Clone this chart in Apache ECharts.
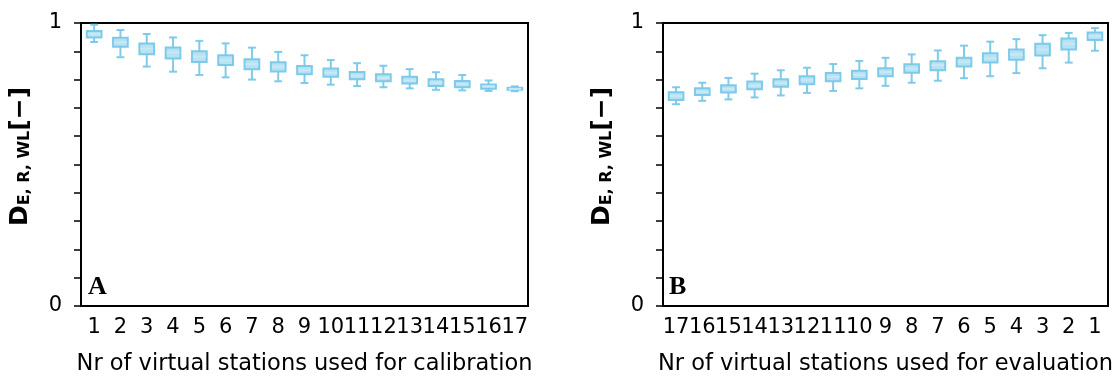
<!DOCTYPE html>
<html>
<head>
<meta charset="utf-8">
<script src="https://cdn.jsdelivr.net/npm/echarts@6/dist/echarts.min.js"></script>
<style>
  html, body { margin: 0; padding: 0; background: #fff; }
  #main { width: 1115px; height: 376px; }
</style>
</head>
<body>
<div id="main"></div>
<script>
// categories
const calibCats = ['1', '2', '3', '4', '5', '6', '7', '8', '9', '10', '11', '12', '13', '14', '15', '16', '17'];
const evalCats = ['17', '16', '15', '14', '13', '12', '11', '10', '9', '8', '7', '6', '5', '4', '3', '2', '1'];

// [low whisker, Q1, median, Q3, high whisker]
const calibBoxes = [
    [0.933, 0.949, 0.960, 0.972, 0.994],
    [0.879, 0.916, 0.932, 0.948, 0.975],
    [0.846, 0.890, 0.909, 0.928, 0.961],
    [0.828, 0.875, 0.895, 0.913, 0.949],
    [0.816, 0.862, 0.881, 0.900, 0.937],
    [0.808, 0.852, 0.868, 0.886, 0.928],
    [0.800, 0.837, 0.855, 0.872, 0.913],
    [0.794, 0.829, 0.845, 0.861, 0.898],
    [0.788, 0.819, 0.833, 0.848, 0.886],
    [0.782, 0.810, 0.824, 0.839, 0.869],
    [0.777, 0.801, 0.814, 0.827, 0.858],
    [0.773, 0.794, 0.806, 0.819, 0.849],
    [0.769, 0.786, 0.797, 0.810, 0.837],
    [0.764, 0.777, 0.789, 0.801, 0.826],
    [0.762, 0.773, 0.784, 0.795, 0.816],
    [0.760, 0.768, 0.776, 0.783, 0.797],
    [0.759, 0.764, 0.767, 0.771, 0.776]
];

const evalBoxes = [
    [0.713, 0.728, 0.742, 0.755, 0.773],
    [0.725, 0.746, 0.757, 0.769, 0.789],
    [0.730, 0.754, 0.767, 0.780, 0.806],
    [0.737, 0.766, 0.778, 0.793, 0.821],
    [0.744, 0.775, 0.788, 0.801, 0.833],
    [0.753, 0.784, 0.799, 0.812, 0.842],
    [0.760, 0.794, 0.809, 0.823, 0.855],
    [0.769, 0.802, 0.817, 0.831, 0.866],
    [0.778, 0.812, 0.827, 0.840, 0.877],
    [0.789, 0.824, 0.839, 0.854, 0.889],
    [0.796, 0.833, 0.851, 0.865, 0.903],
    [0.805, 0.846, 0.863, 0.877, 0.920],
    [0.812, 0.860, 0.875, 0.893, 0.934],
    [0.823, 0.870, 0.889, 0.906, 0.943],
    [0.840, 0.885, 0.906, 0.927, 0.957],
    [0.860, 0.906, 0.927, 0.945, 0.965],
    [0.902, 0.940, 0.953, 0.966, 0.982]
];

const boxFill = 'rgba(135,206,235,0.6)';
const boxEdge = 'rgba(120,200,232,0.95)';
const medEdge = 'rgba(200,232,246,1)';

function renderBox(params, api) {
    const idx = api.value(0);
    const low = api.coord([idx, api.value(1)]);
    const q1 = api.coord([idx, api.value(2)]);
    const med = api.coord([idx, api.value(3)]);
    const q3 = api.coord([idx, api.value(4)]);
    const high = api.coord([idx, api.value(5)]);
    const band = api.size([1, 0])[0];
    const bw = band * 0.56;
    const cw = band * 0.3;
    const x = low[0];
    const line = (x1, y1, x2, y2, c) => ({
        type: 'line',
        shape: { x1: x1, y1: y1, x2: x2, y2: y2 },
        style: { stroke: c || boxEdge, lineWidth: 2 }
    });
    return {
        type: 'group',
        children: [
            line(x, q3[1], x, high[1]),
            line(x, q1[1], x, low[1]),
            line(x - cw / 2, high[1], x + cw / 2, high[1]),
            line(x - cw / 2, low[1], x + cw / 2, low[1]),
            {
                type: 'rect',
                shape: { x: x - bw / 2, y: q3[1], width: bw, height: q1[1] - q3[1] },
                style: { fill: boxFill, stroke: boxEdge, lineWidth: 2 }
            },
            line(x - bw / 2 + 1, med[1], x + bw / 2 - 1, med[1], medEdge)
        ]
    };
}

const myChart = echarts.init(document.getElementById('main'));

const font = 'DejaVu Sans';
const yName = '{d|D}{s|E, R, WL}{d|[−]}';
const yNameRich = {
    d: { fontSize: 25, fontWeight: 'bold', fontFamily: font, color: '#000' },
    s: { fontSize: 16, fontWeight: 'bold', fontFamily: font, color: '#000', padding: [9, 0, 0, 0] }
};

function xAxisOf(gridIndex, cats, name) {
    return {
        type: 'category',
        gridIndex: gridIndex,
        data: cats,
        boundaryGap: true,
        name: name,
        nameLocation: 'middle',
        nameGap: 47,
        nameTextStyle: { fontSize: 22.5, fontFamily: font, color: '#000' },
        axisLine: { lineStyle: { color: '#000', width: 2 } },
        axisTick: { alignWithLabel: true, length: 7, lineStyle: { color: '#000', width: 2 } },
        axisLabel: { fontSize: 21, fontFamily: font, color: '#000', margin: 11, interval: 0 },
        splitLine: { show: false }
    };
}

function yAxisOf(gridIndex) {
    return {
        type: 'value',
        gridIndex: gridIndex,
        min: 0,
        max: 1,
        interval: 0.1,
        name: yName,
        nameLocation: 'middle',
        nameRotate: 90,
        nameGap: 48,
        nameTextStyle: { rich: yNameRich, padding: [0, 0, 0, 16] },
        axisLine: { show: true, lineStyle: { color: '#000', width: 2 } },
        axisTick: { show: true, length: 7, lineStyle: { color: '#000', width: 1.5 } },
        axisLabel: {
            fontSize: 21, fontFamily: font, color: '#000', margin: 19,
            formatter: v => (v === 0 || v === 1) ? String(v) : ''
        },
        splitLine: { show: false }
    };
}

const option = {
    animation: false,
    grid: [
        { left: 81, top: 23, width: 447, height: 283, outerBoundsMode: 'none', show: true, borderColor: '#000', borderWidth: 2 },
        { left: 663, top: 23, width: 445, height: 283, outerBoundsMode: 'none', show: true, borderColor: '#000', borderWidth: 2 }
    ],
    xAxis: [
        xAxisOf(0, calibCats, 'Nr of virtual stations used for calibration'),
        xAxisOf(1, evalCats, 'Nr of virtual stations used for evaluation')
    ],
    yAxis: [yAxisOf(0), yAxisOf(1)],
    graphic: [
        {
            type: 'text', left: 88, top: 274,
            style: { text: 'A', font: 'bold 26px "Liberation Serif"', fill: '#000' }
        },
        {
            type: 'text', left: 669, top: 274,
            style: { text: 'B', font: 'bold 26px "Liberation Serif"', fill: '#000' }
        }
    ],
    series: [
        {
            type: 'custom',
            xAxisIndex: 0,
            yAxisIndex: 0,
            renderItem: renderBox,
            encode: { x: 0, y: [1, 2, 3, 4, 5] },
            data: calibBoxes.map((b, i) => [i].concat(b))
        },
        {
            type: 'custom',
            xAxisIndex: 1,
            yAxisIndex: 1,
            renderItem: renderBox,
            encode: { x: 0, y: [1, 2, 3, 4, 5] },
            data: evalBoxes.map((b, i) => [i].concat(b))
        }
    ]
};

window.onresize = () => {
    myChart.resize();
};
myChart.setOption(option);
</script>
</body>
</html>
